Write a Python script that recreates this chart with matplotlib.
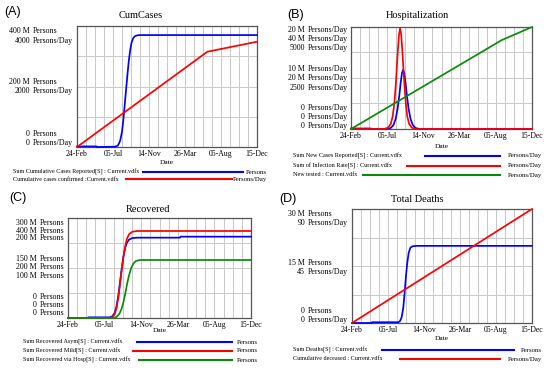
import matplotlib
matplotlib.use("Agg")
import matplotlib.pyplot as plt
from matplotlib.lines import Line2D
import numpy as np

W, H = 550, 371
SERIF = "Liberation Serif"

# ---------------- data ----------------
x_ticks = [0, 132, 264, 396, 528, 660]
x_labels = ["24-Feb", "05-Jul", "14-Nov", "26-Mar", "05-Aug", "15-Dec"]

# (A) CumCases
a_blue_days = [0, 72, 73, 140, 150, 158, 165, 170, 175, 180, 185, 190, 195, 200, 206, 212, 220, 230, 660]
a_blue_vals = [2, 2, 0, 1, 5, 20, 50, 90, 140, 190, 240, 285, 320, 345, 360, 366, 369, 370, 370]  # M persons
a_red_days = [0, 478, 660]
a_red_vals = [0, 3150, 3480]  # persons/day

# (B) Hospitalization
b_blue_days = [0, 72, 73, 130, 145, 155, 163, 170, 176, 181, 186, 190, 194, 199, 204, 210, 217, 225, 235, 250, 660]
b_blue_vals = [0.1, 0.1, 0, 0, 0.2, 0.8, 2, 4, 6.5, 9, 11, 11.6, 11, 9, 6.5, 4, 2, 0.8, 0.2, 0, 0]  # M
b_red_days = [0, 120, 135, 145, 152, 158, 163, 167, 171, 175, 179, 183, 187, 191, 195, 200, 205, 212, 222, 235, 660]
b_red_vals = [0, 0, 0.5, 2, 5, 10, 17, 24, 31, 37, 39.5, 37, 31, 24, 17, 10, 5, 2, 0.5, 0, 0]  # M
b_green_days = [0, 550, 660]
b_green_vals = [0, 4360, 5000]

# (C) Recovered
c_blue_days = [0, 72, 73, 150, 160, 168, 175, 182, 188, 194, 200, 206, 212, 220, 232, 250, 404, 406, 660]
c_blue_vals = [0, 0, 2, 2, 5, 15, 35, 70, 110, 150, 185, 210, 225, 235, 240, 241, 241, 244, 244]
c_red_days = [0, 150, 160, 168, 175, 182, 188, 194, 200, 206, 212, 220, 232, 250, 660]
c_red_vals = [0, 0, 4, 14, 40, 85, 140, 195, 245, 285, 315, 335, 345, 348, 348]
c_green_days = [0, 165, 175, 185, 193, 200, 207, 213, 220, 228, 236, 245, 260, 660]
c_green_vals = [0, 0, 2, 8, 18, 32, 50, 68, 85, 100, 109, 114, 116, 116]

# (D) Total Deaths
d_blue_days = [0, 72, 73, 170, 176, 182, 188, 193, 198, 203, 208, 214, 222, 238, 660]
d_blue_vals = [0, 0, 0.2, 0.2, 0.5, 1.5, 4, 8, 12.5, 16, 18.5, 19.8, 20.2, 20.3, 20.3]
d_red_days = [0, 660]
d_red_vals = [0, 90]

BLUE, RED, GREEN = "#0000ff", "#ff0000", "#0a8a0a"


def fx(x):
    return x / W


def fy(y):
    return 1 - y / H


def panel(fig, box, series, title, title_xy, letter, letter_xy, date_y,
          ylabels, num_right, unit_left, legend, leg_rows, leg_text_x, unit_right):
    x0, y0, x1, y1 = box
    ax = fig.add_axes([fx(x0), fy(y1), (x1 - x0) / W, (y1 - y0) / H])
    ax.set_xlim(0, 660)
    days, vals, ymax, color = series[0]
    ax.set_ylim(0, ymax)
    ax.set_xticks(x_ticks)
    ax.set_xticklabels(x_labels, fontsize=5.6, family=SERIF)
    ax.set_xticks(np.arange(0, 661, 33), minor=True)
    ax.set_yticks(np.linspace(0, ymax, 5))
    ax.set_yticklabels([])
    ax.tick_params(which="both", length=0, pad=2.0)
    ax.grid(True, which="both", color="#c8c8c8", lw=0.7)
    for s in ax.spines.values():
        s.set_color("#555555")
        s.set_linewidth(0.9)
    ax.plot(days, vals, color=color, lw=1.25, clip_on=False, zorder=3)
    for days, vals, ymax, color in series[1:]:
        tw = ax.twinx()
        tw.set_ylim(0, ymax)
        tw.set_yticks([])
        for s in tw.spines.values():
            s.set_visible(False)
        tw.plot(days, vals, color=color, lw=1.25, clip_on=False, zorder=3)

    fig.text(fx(title_xy[0]), fy(title_xy[1]), title, ha="center", va="center",
             fontsize=7.5, family=SERIF)
    fig.text(fx(letter_xy[0]), fy(letter_xy[1]), letter, ha="left", va="center",
             fontsize=9, family="Liberation Sans")
    fig.text(fx((x0 + x1) / 2), fy(date_y), "Date", ha="center", va="center",
             fontsize=5.3, family=SERIF)

    for y, num, unit in ylabels:
        fig.text(fx(num_right), fy(y), num, ha="right", va="center", fontsize=5.7, family=SERIF)
        fig.text(fx(unit_left), fy(y), unit, ha="left", va="center", fontsize=5.7, family=SERIF)

    for (text, unit, color), (ly, lx0, lx1) in zip(legend, leg_rows):
        fig.text(fx(leg_text_x), fy(ly), text, ha="left", va="center", fontsize=4.4, family=SERIF)
        fig.text(fx(unit_right), fy(ly), unit, ha="right", va="center", fontsize=4.9, family=SERIF)
        fig.add_artist(Line2D([fx(lx0), fx(lx1)], [fy(ly), fy(ly)], color=color, lw=1.5,
                              transform=fig.transFigure))
    return ax


fig = plt.figure(figsize=(W / 100, H / 100), dpi=100)

P, PD = "Persons", "Persons/Day"

panel(fig, (77, 26, 257, 147),
      [(a_blue_days, a_blue_vals, 400, BLUE), (a_red_days, a_red_vals, 4000, RED)],
      "CumCases", (141, 15), "(A)", (4, 12), 163,
      [(31, "400 M", P), (41, "4000", PD), (82, "200 M", P), (91, "2000", PD),
       (134, "0", P), (143, "0", PD)],
      30, 33,
      [("Sum Cumulative Cases Reported[S] : Current.vdfx", P, BLUE),
       ("Cumulative cases confirmed :Current.vdfx", PD, RED)],
      [(172, 143, 243), (179, 126, 232)], 13, 267)

panel(fig, (351, 27, 532, 129),
      [(b_blue_days, b_blue_vals, 20, BLUE), (b_red_days, b_red_vals, 40, RED),
       (b_green_days, b_green_vals, 5000, GREEN)],
      "Hospitalization", (417, 16), "(B)", (287, 15), 146,
      [(30, "20 M", PD), (39, "40 M", PD), (48, "5000", PD),
       (69, "10 M", PD), (78, "20 M", PD), (88, "2500", PD),
       (108, "0", PD), (117, "0", PD), (126, "0", PD)],
      305, 308,
      [("Sum New Cases Reported[S] : Current.vdfx", PD, BLUE),
       ("Sum of Infection Rate[S] : Current.vdfx", PD, RED),
       ("New tested : Current.vdfx", PD, GREEN)],
      [(156, 425, 500), (166, 407, 500), (175, 363, 500)], 293, 542)

panel(fig, (68, 218, 251, 318),
      [(c_blue_days, c_blue_vals, 300, BLUE), (c_red_days, c_red_vals, 400, RED),
       (c_green_days, c_green_vals, 200, GREEN)],
      "Recovered", (148, 209), "(C)", (9, 198), 331,
      [(223, "300 M", P), (231, "400 M", P), (238, "200 M", P),
       (259, "150 M", P), (267, "200 M", P), (276, "100 M", P),
       (297, "0", P), (305, "0", P), (313, "0", P)],
      37, 40,
      [("Sum Recovered Asym[S] : Current.vdfx", P, BLUE),
       ("Sum Recovered Mild[S] : Current.vdfx", P, RED),
       ("Sum Recovered via Hosp[S] : Current.vdfx", P, GREEN)],
      [(342, 137, 232), (351, 133, 232), (360, 139, 232)], 23, 258)

panel(fig, (352, 209, 532, 323),
      [(d_blue_days, d_blue_vals, 30, BLUE), (d_red_days, d_red_vals, 90, RED)],
      "Total Deaths", (417, 200), "(D)", (279, 199), 339,
      [(214, "30 M", P), (223, "90", PD), (263, "15 M", P), (272, "45", PD),
       (311, "0", P), (320, "0", PD)],
      305, 308,
      [("Sum Deaths[S] : Current.vdfx", P, BLUE),
       ("Cumulative deceased : Current.vdfx", PD, RED)],
      [(350, 382, 514), (359, 400, 500)], 293, 542)

fig.savefig("out.png", dpi=100)
